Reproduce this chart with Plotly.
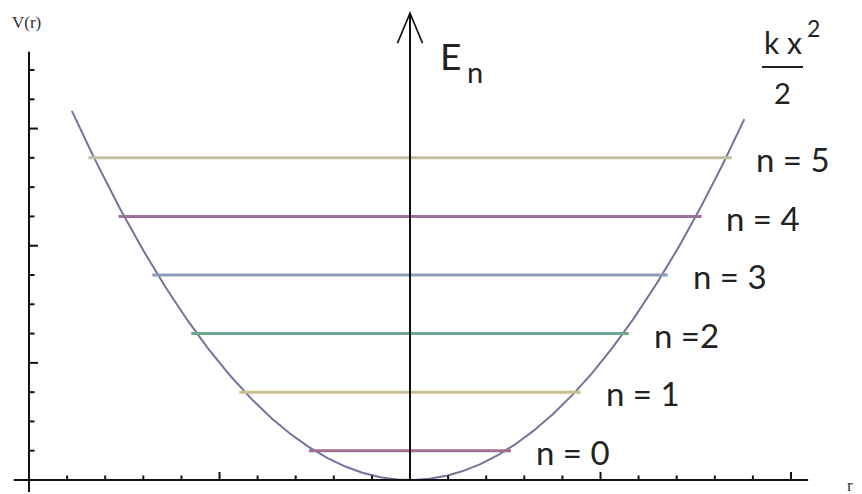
import numpy as np
import plotly.graph_objects as go

# Harmonic oscillator: V(x) = k x^2 / 2, levels E_n = (n + 1/2) * hbar*omega (hbar*omega = 1)
spring_k = 4.0
quantum_numbers = [0, 1, 2, 3, 4, 5]
level_labels = ["n = 0", "n = 1", "n =2", "n = 3", "n = 4", "n = 5"]
level_colors = ["#a26f94", "#c6c18e", "#6ca98e", "#8e9eba", "#9c709d", "#c0be9f"]
curve_x_limits = [-1.775, 1.755]

# axis ticks
x_ticks = [-1.8, -1.6, -1.4, -1.2, -1.0, -0.8, -0.6, -0.4, -0.2,
           0.2, 0.4, 0.6, 0.8, 1.0, 1.2, 1.4, 1.6, 1.8, 2.0]
x_major = [-1.0, 1.0, 2.0]
y_ticks = [0.5, 1.0, 1.5, 2.0, 2.5, 3.0, 3.5, 4.0, 4.5, 5.0, 5.5, 6.0, 6.5, 7.0]
y_major = [2.0, 4.0, 6.0]

# view window (whole canvas is the plotting area)
X_RANGE = [-2.1522, 2.3727]
Y_RANGE = [-0.239, 8.195]
W, H = 862, 494
sx = W / (X_RANGE[1] - X_RANGE[0])   # px per x unit
sy = H / (Y_RANGE[1] - Y_RANGE[0])   # px per energy unit

AXIS_X0 = -2.0
AXIS_COLOR = "#111111"

fig = go.Figure()

# potential curve
xc = np.linspace(curve_x_limits[0], curve_x_limits[1], 400)
fig.add_trace(go.Scatter(x=xc, y=0.5 * spring_k * xc ** 2, mode="lines",
                         line=dict(color="#77729b", width=2), hoverinfo="skip"))

# energy levels, each spanning the well at its energy
energies = [n + 0.5 for n in quantum_numbers]
annotations = []
for E, lab, col in zip(energies, level_labels, level_colors):
    half = np.sqrt(2 * E / spring_k) + 0.03
    fig.add_trace(go.Scatter(x=[-half, half], y=[E, E], mode="lines",
                             line=dict(color=col, width=3), hoverinfo="skip"))
    annotations.append(dict(x=half + 0.12, y=E - 0.02, xref="x", yref="y",
                            text=lab, showarrow=False, xanchor="left", yanchor="middle",
                            font=dict(family="Lato", size=33, color="#222222")))

shapes = []
# x axis (extends slightly past the vertical axis on the left)
shapes.append(dict(type="line", xref="x", yref="y", x0=-2.08, x1=2.09, y0=0, y1=0,
                   line=dict(color=AXIS_COLOR, width=2)))
# y axis
shapes.append(dict(type="line", xref="x", yref="y", x0=AXIS_X0, x1=AXIS_X0,
                   y0=-12 / sy, y1=7.31, line=dict(color=AXIS_COLOR, width=2)))
for t in x_ticks:
    ln = (8 if t in x_major else 4.5) / sy
    shapes.append(dict(type="line", xref="x", yref="y", x0=t, x1=t, y0=0, y1=ln,
                       line=dict(color=AXIS_COLOR, width=2)))
for t in y_ticks:
    ln = (9 if t in y_major else 5.5) / sx
    shapes.append(dict(type="line", xref="x", yref="y", x0=AXIS_X0, x1=AXIS_X0 + ln,
                       y0=t, y1=t, line=dict(color=AXIS_COLOR, width=2)))

# energy arrow through the centre of the well
tip = 7.97
wing_dx, wing_dy = 12.5 / sx, 30 / sy
shapes.append(dict(type="line", xref="x", yref="y", x0=0, x1=0, y0=0, y1=tip,
                   line=dict(color=AXIS_COLOR, width=2)))
shapes.append(dict(type="path", xref="x", yref="y",
                   path=f"M {-wing_dx},{tip - wing_dy} L 0,{tip} L {wing_dx},{tip - wing_dy}",
                   line=dict(color=AXIS_COLOR, width=1.6)))

# fraction bar of k x^2 / 2
def px(xp):
    return X_RANGE[0] + xp / sx

def py(yp):
    return Y_RANGE[1] - yp / sy

shapes.append(dict(type="line", xref="x", yref="y", x0=px(762), x1=px(803),
                   y0=py(67), y1=py(67), line=dict(color="#222222", width=2)))

text_font = dict(family="Lato", color="#222222")
annotations += [
    dict(x=px(438), y=py(55), text="E", font=dict(size=37, **text_font)),
    dict(x=px(465), y=py(71), text="n", font=dict(size=29, **text_font)),
    dict(x=px(762), y=py(42), text="k x", font=dict(size=30, **text_font)),
    dict(x=px(805), y=py(28), text="2", font=dict(size=23, **text_font)),
    dict(x=px(772), y=py(92), text="2", font=dict(size=29, **text_font)),
    dict(x=px(10), y=py(22), text="V(r)",
         font=dict(family="Liberation Serif", size=17, color="#333333")),
    dict(x=px(845), y=py(485), text="r",
         font=dict(family="Liberation Serif", size=17, color="#333333")),
]
for a in annotations[-7:]:
    a.update(xref="x", yref="y", showarrow=False, xanchor="left", yanchor="middle")

fig.update_layout(
    width=W, height=H,
    margin=dict(l=0, r=0, t=0, b=0),
    paper_bgcolor="white", plot_bgcolor="white",
    showlegend=False,
    xaxis=dict(range=X_RANGE, visible=False, fixedrange=True),
    yaxis=dict(range=Y_RANGE, visible=False, fixedrange=True),
    shapes=shapes,
    annotations=annotations,
)

fig.write_html("out.html")
